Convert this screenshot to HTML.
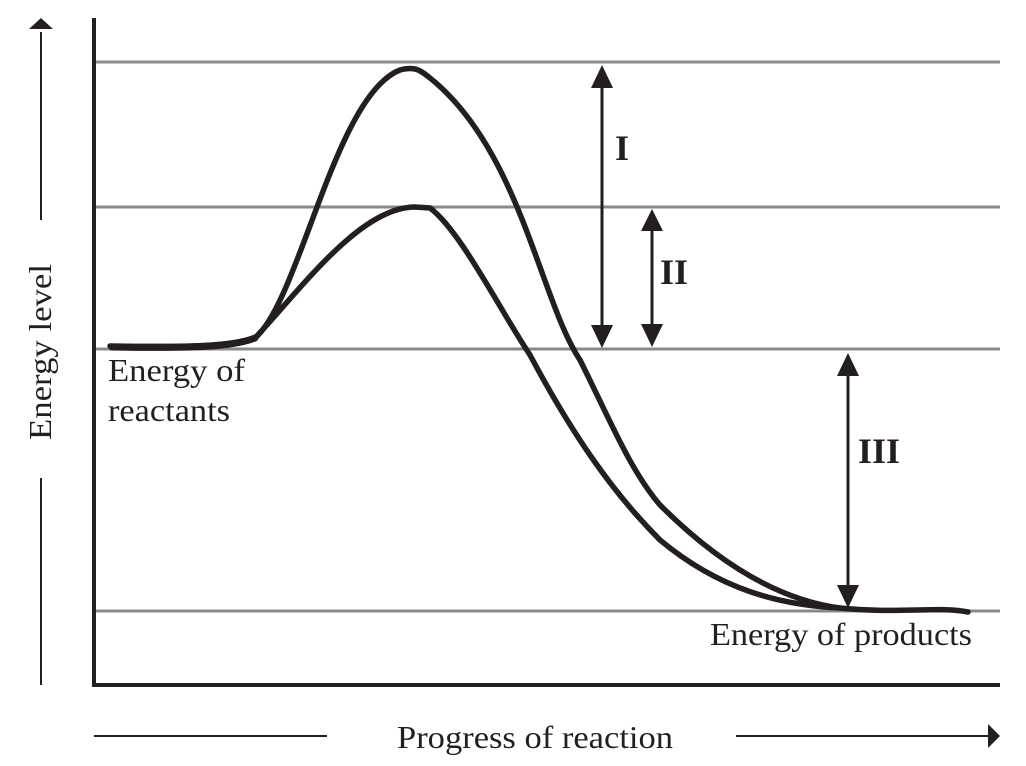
<!DOCTYPE html>
<html><head><style>body{margin:0;background:#fff}svg{display:block}</style></head><body>
<svg width="1026" height="766" viewBox="0 0 1026 766" xmlns="http://www.w3.org/2000/svg" font-family="Liberation Serif, serif">
<g stroke="#8a8a8a" stroke-width="3">
<line x1="95" y1="62" x2="1000" y2="62"/><line x1="95" y1="207" x2="1000" y2="207"/>
<line x1="95" y1="349" x2="1000" y2="349"/><line x1="95" y1="611" x2="1000" y2="611"/>
</g>
<g stroke="#231f20" stroke-width="4" fill="none">
<line x1="94" y1="18" x2="94" y2="686"/><line x1="92" y1="685" x2="1000" y2="685"/>
</g>
<g stroke="#231f20" stroke-width="2">
<line x1="41" y1="32" x2="41" y2="220"/><line x1="41" y1="478" x2="41" y2="685"/>
<line x1="94" y1="736" x2="327" y2="736"/><line x1="736" y1="736" x2="990" y2="736"/>
</g>
<path d="M29,29 L41,18 L53,29 Z M988,724 L1000,736 L988,748 Z" fill="#231f20"/>
<g stroke="#231f20" stroke-width="5.5" fill="none" stroke-linecap="round">
<path d="M110,346 C180,347 230,347 255,338 C300,300 335,95 400,70 C415,66 420,70 430,78 C520,150 540,300 580,360 C610,420 630,470 660,505 C720,565 780,600 840,608 C900,614 940,606 968,612"/>
<path d="M255,338 C300,290 360,207 415,207 L430,208 C460,230 500,310 530,355 C570,430 610,490 660,540 C720,590 780,605 840,608"/>
<path d="M112,347 C180,348 230,348 255,338" stroke-width="7"/>
</g>
<g stroke="#231f20" stroke-width="3">
<line x1="602" y1="80" x2="602" y2="333"/><line x1="652" y1="223" x2="652" y2="332"/><line x1="848" y1="368" x2="848" y2="593"/>
</g>
<g fill="#231f20">
<path d="M591,88 L602,65 L613,88 Z M591,325 L602,348 L613,325 Z"/>
<path d="M641,231 L652,209 L663,231 Z M641,324 L652,347 L663,324 Z"/>
<path d="M837,376 L848,353 L859,376 Z M837,585 L848,608 L859,585 Z"/>
</g>
<g fill="#231f20" font-weight="bold" font-size="36">
<text x="615" y="160">I</text><text x="660" y="284">II</text><text x="858" y="463">III</text>
</g>
<g fill="#231f20" font-size="32">
<text x="108" y="381" textLength="137" lengthAdjust="spacingAndGlyphs">Energy of</text>
<text x="108" y="421" textLength="122" lengthAdjust="spacingAndGlyphs">reactants</text>
<text x="710" y="645" textLength="262" lengthAdjust="spacingAndGlyphs">Energy of products</text>
<text x="397" y="748" textLength="276" lengthAdjust="spacingAndGlyphs">Progress of reaction</text>
<text transform="translate(51,440) rotate(-90)" textLength="176" lengthAdjust="spacingAndGlyphs">Energy level</text>
</g>
</svg>
</body></html>
